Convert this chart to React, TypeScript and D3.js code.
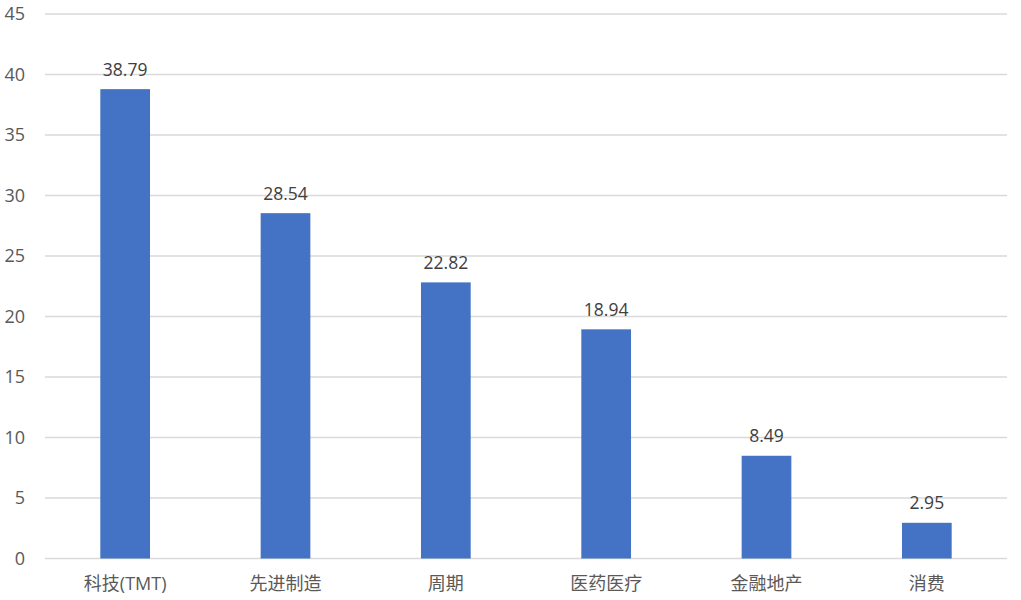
import React from "react";
import * as d3 from "d3";

const categories = ["科技(TMT)", "先进制造", "周期", "医药医疗", "金融地产", "消费"];
const values = [38.79, 28.54, 22.82, 18.94, 8.49, 2.95];
const yTicks = [0, 5, 10, 15, 20, 25, 30, 35, 40, 45];

const W = 1021;
const H = 600;
const M = { left: 45, right: 1007, top: 14, bottom: 558.5 };
const FONT = "'Open Sans', 'Noto Sans CJK SC', sans-serif";

export default function App() {
  const x = d3.scaleBand<string>().domain(categories).range([M.left, M.right]).paddingInner(0.69).paddingOuter(0.345);
  const y = d3.scaleLinear().domain([0, 45]).range([M.bottom, M.top]);
  return (
    <svg width={W} height={H} style={{ position: "absolute", left: 0, top: 0, background: "#fff" }}>
      {yTicks.map((t) => (
        <g key={t}>
          <line x1={M.left} x2={M.right} y1={y(t)} y2={y(t)} stroke="#d9d9d9" strokeWidth={1.5} />
          <text x={25} y={y(t)} dy="0.35em" textAnchor="end" fontSize={18} fill="#595959" fontFamily={FONT}>{t}</text>
        </g>
      ))}
      {categories.map((c, i) => (
        <g key={c}>
          <rect x={x(c)} y={y(values[i])} width={x.bandwidth()} height={y(0) - y(values[i])} fill="#4472c4" />
          <text x={(x(c) as number) + x.bandwidth() / 2} y={y(values[i]) - 13.5} textAnchor="middle" fontSize={17.5} fill="#404040" fontFamily={FONT}>{values[i].toFixed(2)}</text>
          <text x={(x(c) as number) + x.bandwidth() / 2} y={590} textAnchor="middle" fontSize={18} fill="#595959" fontFamily={FONT}>{c}</text>
        </g>
      ))}
    </svg>
  );
}
